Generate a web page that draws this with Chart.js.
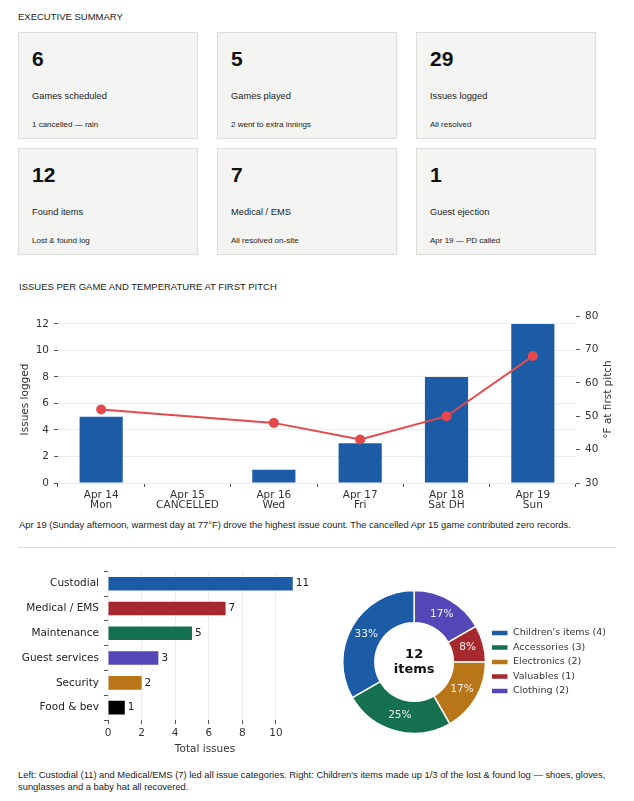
<!DOCTYPE html>
<html>
<head>
<meta charset="utf-8">
<script src="https://cdn.jsdelivr.net/npm/chart.js@4.4.0/dist/chart.umd.min.js"></script>
<style>
  body { margin: 0; width: 634px; height: 801px; background: #fff; position: relative; overflow: hidden;
         font-family: "Liberation Sans", Arial, sans-serif; color: #222; }
  .abs { position: absolute; }
  .sec { font-size: 9.5px; line-height: 11px; color: #222; }
  .card { position: absolute; width: 180px; height: 107px; box-sizing: border-box;
          background: #f4f4f2; border: 1px solid #dcdcd8; }
  .card .num { position: absolute; left: 13px; top: 15px; font-size: 21px; line-height: 22px; font-weight: bold; color: #111; }
  .card .lbl { position: absolute; left: 13px; top: 57px; font-size: 9.3px; line-height: 12px; }
  .card .sub { position: absolute; left: 13px; top: 87px; font-size: 8px; line-height: 10px; }
  .cap { font-size: 9.4px; line-height: 11.5px; color: #222; }
  canvas { position: absolute; }
</style>
</head>
<body>
<div class="abs sec" style="left:18px;top:11px;">EXECUTIVE SUMMARY</div>
<div id="cards"></div>

<div class="abs sec" style="left:19px;top:281px;">ISSUES PER GAME AND TEMPERATURE AT FIRST PITCH</div>
<canvas id="games" width="634" height="215" style="left:0;top:300px;"></canvas>
<div class="abs cap" style="left:19px;top:519px;">Apr 19 (Sunday afternoon, warmest day at 77°F) drove the highest issue count. The cancelled Apr 15 game contributed zero records.</div>
<div class="abs" style="left:18px;top:547px;width:598px;height:1px;background:#dddddd;"></div>

<canvas id="categories" width="320" height="200" style="left:0;top:560px;"></canvas>
<canvas id="found" width="314" height="200" style="left:320px;top:560px;"></canvas>

<div class="abs cap" style="left:18px;top:769px;width:606px;">Left: Custodial (11) and Medical/EMS (7) led all issue categories. Right: Children's items made up 1/3 of the lost &amp; found log — shoes, gloves, sunglasses and a baby hat all recovered.</div>

<script>
// summary cards
var cardValues = ['6', '5', '29', '12', '7', '1'];
var cardLabels = ['Games scheduled', 'Games played', 'Issues logged', 'Found items', 'Medical / EMS', 'Guest ejection'];
var cardNotes = ['1 cancelled — rain', '2 went to extra innings', 'All resolved', 'Lost & found log', 'All resolved on-site', 'Apr 19 — PD called'];

// issues per game + temperature
var gameDays = [['Apr 14', 'Mon'], ['Apr 15', 'CANCELLED'], ['Apr 16', 'Wed'], ['Apr 17', 'Fri'], ['Apr 18', 'Sat DH'], ['Apr 19', 'Sun']];
var issuesPerGame = [5, 0, 1, 3, 8, 12];
var tempAtPitch = [52, null, 48, 43, 50, 68];
var issueTicks = [0, 2, 4, 6, 8, 10, 12];
var tempTicks = [30, 40, 50, 60, 70, 80];
var tempAxisTitle = '°F at first pitch';

// issue categories
var issueCategories = ['Custodial', 'Medical / EMS', 'Maintenance', 'Guest services', 'Security', 'Food & bev'];
var issueTotals = [11, 7, 5, 3, 2, 1];
var totalTicks = [0, 2, 4, 6, 8, 10];

// lost & found
var foundCategories = ["Children's items", 'Accessories', 'Electronics', 'Valuables', 'Clothing'];
var foundCounts = [4, 3, 2, 1, 2];

var BLUE = '#1c5ca6';
var categoryColors = [BLUE, '#a5292e', '#14704f', '#5447b8', '#b87619', '#000000'];
var foundColors = [BLUE, '#14704f', '#b87619', '#a5292e', '#5447b8'];

// cards
var cardLefts = [18, 217, 416];
var cardTops = [32, 148];
var html = '';
for (var i = 0; i < cardValues.length; i++) {
  var l = cardLefts[i % 3], t = cardTops[Math.floor(i / 3)];
  html += '<div class="card" style="left:' + l + 'px;top:' + t + 'px;">' +
    '<div class="num">' + cardValues[i] + '</div>' +
    '<div class="lbl">' + cardLabels[i] + '</div>' +
    '<div class="sub">' + cardNotes[i].replace('&', '&amp;') + '</div></div>';
}
document.getElementById('cards').innerHTML = html;

Chart.defaults.font.family = "'DejaVu Sans', sans-serif";
Chart.defaults.font.size = 10.5;
Chart.defaults.color = '#333';

function fixedTicks(list) {
  return function(scale) {
    scale.ticks = list.map(function(v) { return { value: v }; });
  };
}

// right axis title reads bottom-to-top like the left one
var rightAxisTitle = {
  id: 'rightAxisTitle',
  afterDraw: function(chart) {
    var s = chart.scales.y1;
    var ctx = chart.ctx;
    ctx.save();
    ctx.translate(s.right - 26, (chart.chartArea.top + chart.chartArea.bottom) / 2);
    ctx.rotate(-Math.PI / 2);
    ctx.font = "10.5px 'DejaVu Sans'";
    ctx.fillStyle = '#333';
    ctx.textAlign = 'center';
    ctx.textBaseline = 'middle';
    ctx.fillText(tempAxisTitle, 0, 0);
    ctx.restore();
  }
};

// chart 1: bars + temperature line
new Chart(document.getElementById('games').getContext('2d'), {
  type: 'bar',
  data: {
    labels: gameDays,
    datasets: [
      {
        type: 'line',
        label: 'Temperature',
        data: tempAtPitch,
        yAxisID: 'y1',
        borderColor: '#e5484d',
        backgroundColor: '#e5484d',
        borderWidth: 2,
        pointRadius: 4,
        pointHoverRadius: 4,
        spanGaps: true,
        tension: 0,
        order: 0
      },
      {
        label: 'Issues',
        data: issuesPerGame,
        yAxisID: 'y',
        backgroundColor: BLUE,
        borderWidth: 0,
        barPercentage: 0.5,
        categoryPercentage: 1,
        order: 1
      }
    ]
  },
  options: {
    responsive: false,
    animation: false,
    layout: { padding: { top: 16, left: 0, right: 0, bottom: 0 } },
    plugins: { legend: { display: false }, tooltip: { enabled: false } },
    scales: {
      x: {
        offset: true,
        grid: { drawOnChartArea: false, tickLength: 4, tickColor: '#555' },
        border: { display: false },
        ticks: { padding: 3, color: '#333', font: { size: 10.5, lineHeight: 1 }, maxRotation: 0 },
        afterFit: function(s) { s.height = 32; }
      },
      y: {
        position: 'left',
        min: 0,
        max: 12.6,
        afterBuildTicks: fixedTicks(issueTicks),
        grid: { color: '#ececec', tickColor: '#555', tickLength: 4 },
        border: { display: false },
        ticks: { padding: 5, color: '#333' },
        title: { display: true, text: 'Issues logged', color: '#333', font: { size: 10.5 }, padding: { top: 18.5, bottom: 0 } },
        afterFit: function(s) { s.width = 58; }
      },
      y1: {
        position: 'right',
        min: 30,
        max: 80,
        afterBuildTicks: fixedTicks(tempTicks),
        grid: { drawOnChartArea: false, tickColor: '#555', tickLength: 4 },
        border: { display: false },
        ticks: { padding: 5, color: '#333' },
        afterFit: function(s) { s.width = 58; }
      }
    }
  },
  plugins: [rightAxisTitle]
});

// chart 2: horizontal bars with value labels
var barValueLabels = {
  id: 'barValueLabels',
  afterDatasetsDraw: function(chart) {
    var ctx = chart.ctx;
    var meta = chart.getDatasetMeta(0);
    ctx.save();
    ctx.font = "10.5px 'DejaVu Sans'";
    ctx.fillStyle = '#222';
    ctx.textAlign = 'left';
    ctx.textBaseline = 'middle';
    meta.data.forEach(function(bar, i) {
      ctx.fillText(String(chart.data.datasets[0].data[i]), bar.x + 3, bar.y);
    });
    ctx.restore();
  }
};

new Chart(document.getElementById('categories').getContext('2d'), {
  type: 'bar',
  data: {
    labels: issueCategories,
    datasets: [{
      data: issueTotals,
      backgroundColor: categoryColors,
      borderWidth: 0,
      barPercentage: 0.55,
      categoryPercentage: 1
    }]
  },
  options: {
    indexAxis: 'y',
    responsive: false,
    animation: false,
    layout: { padding: { top: 10, right: 18, left: 0, bottom: 0 } },
    plugins: { legend: { display: false }, tooltip: { enabled: false } },
    scales: {
      x: {
        min: 0,
        max: 11.55,
        afterBuildTicks: fixedTicks(totalTicks),
        grid: { color: '#ececec', tickColor: '#555', tickLength: 4 },
        border: { display: false },
        ticks: { padding: 3, color: '#333' },
        title: { display: true, text: 'Total issues', color: '#333', font: { size: 10.5 }, padding: { top: 0, bottom: 4.5 } },
        afterFit: function(s) { s.height = 40; }
      },
      y: {
        grid: { drawOnChartArea: false, tickColor: '#555', tickLength: 4 },
        border: { display: false },
        ticks: { padding: 5, color: '#222', font: { size: 10.5 } },
        afterFit: function(s) { s.width = 108; }
      }
    }
  },
  plugins: [barValueLabels]
});

// chart 3: lost & found doughnut (drawn counter-clockwise like the source, so data is reversed)
var total = foundCounts.reduce(function(a, b) { return a + b; }, 0);
var doughnutLabels = foundCategories.map(function(c, i) { return c + ' (' + foundCounts[i] + ')'; }).reverse();
var doughnutData = foundCounts.slice().reverse();
var doughnutColors = foundColors.slice().reverse();

var doughnutText = {
  id: 'doughnutText',
  afterDatasetsDraw: function(chart) {
    var ctx = chart.ctx;
    var meta = chart.getDatasetMeta(0);
    ctx.save();
    ctx.textAlign = 'center';
    ctx.textBaseline = 'middle';
    ctx.font = "10.5px 'DejaVu Sans'";
    ctx.fillStyle = '#f2f2f2';
    meta.data.forEach(function(arc, i) {
      var a = (arc.startAngle + arc.endAngle) / 2;
      var r = (arc.innerRadius + arc.outerRadius) / 2;
      var pct = Math.round(doughnutData[i] / total * 100) + '%';
      ctx.fillText(pct, arc.x + Math.cos(a) * r, arc.y + Math.sin(a) * r);
    });
    var cx = meta.data[0].x, cy = meta.data[0].y;
    ctx.fillStyle = '#111';
    ctx.font = "bold 13px 'DejaVu Sans'";
    ctx.fillText(String(total), cx, cy - 7);
    ctx.fillText('items', cx, cy + 8);
    ctx.restore();
  }
};

new Chart(document.getElementById('found').getContext('2d'), {
  type: 'doughnut',
  data: {
    labels: doughnutLabels,
    datasets: [{
      data: doughnutData,
      backgroundColor: doughnutColors,
      borderColor: '#ffffff',
      borderWidth: 1.5
    }]
  },
  options: {
    responsive: false,
    animation: false,
    cutout: '55%',
    layout: { padding: { left: 22, top: 29, bottom: 25, right: 18 } },
    plugins: {
      tooltip: { enabled: false },
      legend: {
        position: 'right',
        reverse: true,
        labels: { boxWidth: 17, boxHeight: 6, padding: 5, color: '#333', font: { size: 9.5 } }
      }
    }
  },
  plugins: [doughnutText]
});
</script>
</body>
</html>
